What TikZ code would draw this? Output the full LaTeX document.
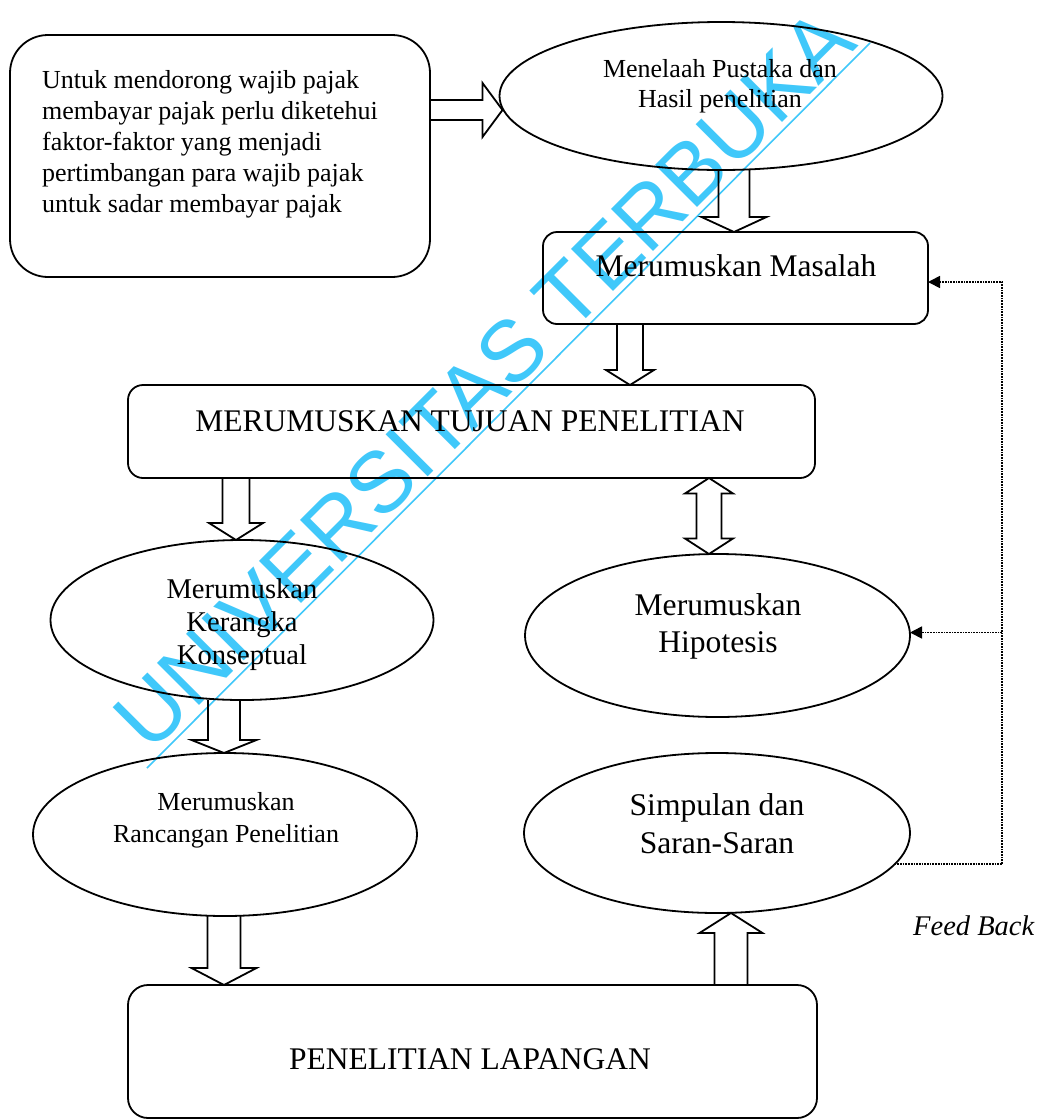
\documentclass[tikz,border=0pt]{standalone}
\usepackage{fontspec}
\setmainfont{Liberation Serif}
\newfontfamily\wmfont{Liberation Sans}
\usetikzlibrary{shapes.geometric,arrows.meta,calc}
\definecolor{wmcyan}{RGB}{64,200,250}

% block arrows: start, tip, shaft half-width, head half-width, head length
\newcommand\blkdown[5]{\draw[blk] let \p1=(#1), \p2=(#2) in
  (\x2-#3,\y1) -- (\x2-#3,\y2+#5) -- (\x2-#4,\y2+#5) -- (\x2,\y2) --
  (\x2+#4,\y2+#5) -- (\x2+#3,\y2+#5) -- (\x2+#3,\y1);}
\newcommand\blkup[5]{\draw[blk] let \p1=(#1), \p2=(#2) in
  (\x2-#3,\y1) -- (\x2-#3,\y2-#5) -- (\x2-#4,\y2-#5) -- (\x2,\y2) --
  (\x2+#4,\y2-#5) -- (\x2+#3,\y2-#5) -- (\x2+#3,\y1);}
\newcommand\blkright[5]{\draw[blk] let \p1=(#1), \p2=(#2) in
  (\x1,\y2+#3) -- (\x2-#5,\y2+#3) -- (\x2-#5,\y2+#4) -- (\x2,\y2) --
  (\x2-#5,\y2-#4) -- (\x2-#5,\y2-#3) -- (\x1,\y2-#3);}
\newcommand\blkboth[5]{\draw[blk] let \p1=(#1), \p2=(#2) in
  (\x1,\y1) -- (\x1+#4,\y1-#5) -- (\x1+#3,\y1-#5) -- (\x1+#3,\y2+#5) --
  (\x1+#4,\y2+#5) -- (\x1,\y2) -- (\x1-#4,\y2+#5) -- (\x1-#3,\y2+#5) --
  (\x1-#3,\y1-#5) -- (\x1-#4,\y1-#5) -- cycle;}

\begin{document}
\begin{tikzpicture}[x=1pt,y=-1pt,
  rbox/.style={draw, rectangle, rounded corners=#1, line width=1.8pt, inner sep=0pt, outer sep=0pt},
  oval/.style={draw, ellipse, line width=1.8pt, inner sep=0pt, outer sep=0pt},
  blk/.style={draw, line width=1.8pt, line join=miter},
  lbl/.style={inner sep=0pt, align=center},
  fb/.style={densely dotted, line width=1.7pt},
  fbtip/.style={-{Triangle[length=12pt,width=12pt]}},
  wm/.style={rotate=45, anchor=base, inner sep=0pt, text=wmcyan, font=\fontsize{86.5pt}{90pt}\wmfont}
]
\fill[white] (0,0) rectangle (1042,1120);
\useasboundingbox (0,0) rectangle (1042,1120);

% watermark
\node[wm] (wm) at (505,400) {UNIVERSITAS TERBUKA};
\coordinate (wl1) at (147,768);
\coordinate (wl2) at (870,43);
\draw[wmcyan, line width=1.6pt] (wl1) -- (wl2);

% shapes
\node[rbox=38pt, minimum width=420pt, minimum height=242pt] (b1) at (220,156) {};
\node[oval, minimum width=443pt, minimum height=148pt] (e1) at (721,96) {};
\node[rbox=14pt, minimum width=385pt, minimum height=92pt] (b2) at (735.5,278) {};
\node[rbox=15pt, minimum width=687pt, minimum height=93pt] (b3) at (471.5,431.5) {};
\node[oval, minimum width=383pt, minimum height=160pt] (e2) at (242,620) {};
\node[oval, minimum width=385pt, minimum height=163pt] (e3) at (717.5,635.5) {};
\node[oval, minimum width=384pt, minimum height=163pt] (e4) at (225,834.5) {};
\node[oval, minimum width=386pt, minimum height=160pt] (e5) at (717,833) {};
\node[rbox=20pt, minimum width=689pt, minimum height=133pt] (b4) at (472.5,1051.5) {};

% texts
\node[lbl, anchor=north west, align=left, font=\fontsize{26pt}{31pt}\selectfont] (t1) at (42,70)
  {Untuk mendorong wajib pajak\\membayar pajak perlu diketehui\\faktor-faktor yang menjadi\\pertimbangan para wajib pajak\\untuk sadar membayar pajak};
\node[lbl, anchor=north, font=\fontsize{26pt}{30pt}\selectfont] (t2) at (720,59) {Menelaah Pustaka dan\\Hasil penelitian};
\node[lbl, anchor=base, font=\fontsize{31.5pt}{36pt}\selectfont] (t3) at (736,276) {Merumuskan Masalah};
\node[lbl, anchor=base, font=\fontsize{31.5pt}{36pt}\selectfont] (t4) at (470,431) {MERUMUSKAN TUJUAN PENELITIAN};
\node[lbl, anchor=north, font=\fontsize{28.6pt}{33pt}\selectfont] (t5) at (242,578) {Merumuskan\\Kerangka\\Konseptual};
\node[lbl, anchor=north, font=\fontsize{31.6pt}{37pt}\selectfont] (t6) at (718,593) {Merumuskan\\Hipotesis};
\node[lbl, anchor=north, font=\fontsize{26pt}{32pt}\selectfont] (t7) at (226,792) {Merumuskan\\Rancangan Penelitian};
\node[lbl, anchor=north, font=\fontsize{31.6pt}{38pt}\selectfont] (t8) at (717,793) {Simpulan dan\\Saran-Saran};
\node[lbl, anchor=base, font=\fontsize{31.5pt}{36pt}\selectfont] (t9) at (470,1069) {PENELITIAN LAPANGAN};
\node[lbl, anchor=base west, font=\fontsize{28.5pt}{34pt}\selectfont\itshape] (t10) at (913,935) {Feed Back};

% block arrows
\blkright{[yshift=46pt]b1.east}{[xshift=3pt,yshift=-14pt]e1.west}{10pt}{27pt}{20pt}
\blkdown{[xshift=13pt]e1.south}{[xshift=-1.5pt]b2.north}{15.5pt}{32.5pt}{15pt}
\blkdown{[xshift=-105.5pt]b2.south}{[xshift=158.5pt]b3.north}{13pt}{24pt}{15pt}
\blkdown{[xshift=-235.5pt]b3.south}{[xshift=-6pt]e2.north}{13.5pt}{27pt}{17pt}
\blkboth{[xshift=237.5pt]b3.south}{[xshift=-8.5pt]e3.north}{12.5pt}{24pt}{15.5pt}
\blkdown{[xshift=-18pt]e2.south}{[xshift=-1pt]e4.north}{16pt}{32.5pt}{13pt}
\blkdown{[xshift=-1pt]e4.south}{[xshift=-248.5pt]b4.north}{16.5pt}{32.5pt}{17pt}
\blkup{[xshift=258.5pt]b4.north}{[xshift=14pt]e5.south}{16.5pt}{31.5pt}{20pt}

% feedback (dotted)
\coordinate (fbx) at (1002,0);
\coordinate (fbin2) at ([yshift=-4pt]b2.east);
\coordinate (fbin3) at ([yshift=3pt]e3.east);
\draw[fb, fbtip] (e5.-10) -- (fbx |- e5.-10) -- (fbx |- fbin2) -- (fbin2);
\draw[fb, fbtip] (fbx |- fbin3) -- (fbin3);
\end{tikzpicture}
\end{document}
